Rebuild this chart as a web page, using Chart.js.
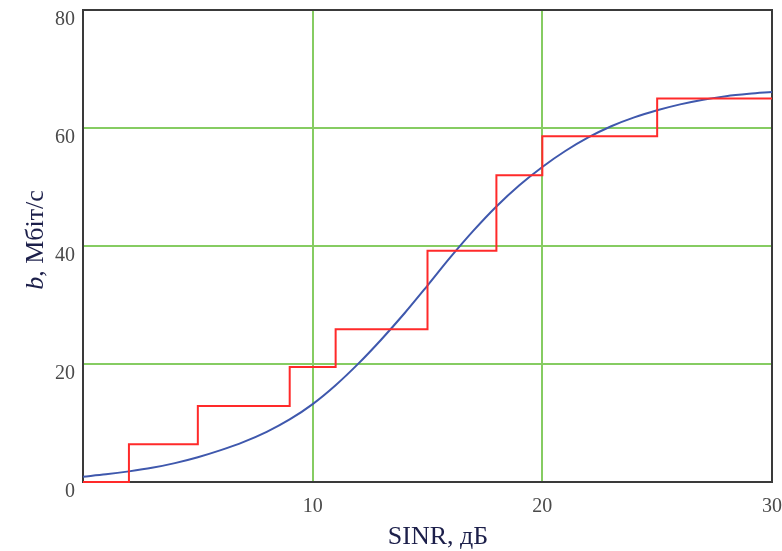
<!DOCTYPE html>
<html>
<head>
<meta charset="utf-8">
<script src="https://cdn.jsdelivr.net/npm/chart.js@4/dist/chart.umd.min.js"></script>
<style>
  html, body { margin: 0; padding: 0; background: #fff; }
  #wrap { width: 782px; height: 551px; }
</style>
</head>
<body>
<div id="wrap"><canvas id="rateChart"></canvas></div>
<script>
// step function (MCS table) and smooth approximation
const sinrSteps = [0, 2, 5, 9, 11, 15, 18, 20, 25, 30];
const rateSteps = [0, 6.4, 12.9, 19.5, 25.9, 39.2, 52.0, 58.6, 65.0, 65.0];

const sinrCurve = [0, 1, 2, 3, 4, 5, 6, 7, 8, 9, 10, 11, 12, 13, 14, 15,
                   16, 17, 18, 19, 20, 21, 22, 23, 24, 25, 26, 27, 28, 29, 30];
const rateCurve = [0.9, 1.3, 1.8, 2.4, 3.2, 4.2, 5.4, 6.8, 8.5, 10.6, 13.2,
                   16.4, 20.1, 24.2, 28.6, 33.3, 38.1, 42.6, 46.7, 50.3, 53.4,
                   56.1, 58.4, 60.3, 61.8, 63.0, 64.0, 64.8, 65.4, 65.8, 66.1];

const xTicks = [0, 10, 20, 30];
const yTicks = [0, 20, 40, 60, 80];

const gridGreen = '#86cc62';
const axisColor = '#3a3a3a';
const tickColor = '#4a4a4a';
const titleColor = '#1c1f4a';

function toPoints(xs, ys) {
    return xs.map((x, i) => ({x: x, y: ys[i]}));
}

const frame = {
    id: 'frame',
    beforeDatasetsDraw(chart) {
        const a = chart.chartArea;
        const ctx = chart.ctx;
        ctx.save();
        ctx.strokeStyle = axisColor;
        ctx.lineWidth = 2;
        ctx.strokeRect(a.left, a.top, a.right - a.left, a.bottom - a.top);
        ctx.restore();
    },
    afterDraw(chart) {
        const ctx = chart.ctx;
        ctx.save();
        ctx.fillStyle = titleColor;
        ctx.textBaseline = 'middle';

        // x title
        ctx.font = '26px "Liberation Serif"';
        ctx.textAlign = 'center';
        ctx.fillText('SINR, дБ', 438, 537);

        // y title with italic b
        ctx.translate(36, 240);
        ctx.rotate(-Math.PI / 2);
        ctx.textAlign = 'left';
        const italic = 'italic 26px "Liberation Serif"';
        const normal = '26px "Liberation Serif"';
        ctx.font = italic;
        const wB = ctx.measureText('b').width;
        ctx.font = normal;
        const rest = ', Мбіт/с';
        const wR = ctx.measureText(rest).width;
        const start = -(wB + wR) / 2;
        ctx.font = italic;
        ctx.fillText('b', start, 0);
        ctx.font = normal;
        ctx.fillText(rest, start + wB, 0);
        ctx.restore();
    }
};

new Chart(document.getElementById('rateChart').getContext('2d'), {
    type: 'line',
    data: {
        datasets: [
            {
                label: 'step',
                data: toPoints(sinrSteps, rateSteps),
                stepped: 'before',
                borderColor: '#ff2a2a',
                borderWidth: 2,
                pointRadius: 0,
                fill: false,
                clip: 4,
            },
            {
                label: 'curve',
                data: toPoints(sinrCurve, rateCurve),
                borderColor: '#3f58ad',
                borderWidth: 2,
                pointRadius: 0,
                cubicInterpolationMode: 'monotone',
                fill: false,
            }
        ]
    },
    options: {
        responsive: true,
        maintainAspectRatio: false,
        animation: false,
        layout: { autoPadding: false, padding: { top: 10, right: 10, left: 0, bottom: 0 } },
        plugins: {
            legend: { display: false },
            tooltip: { enabled: false },
        },
        scales: {
            x: {
                type: 'linear',
                min: 0,
                max: 30,
                afterBuildTicks: (scale) => { scale.ticks = xTicks.map(v => ({value: v})); },
                afterFit: (scale) => {
                    scale.height = 69;
                    scale.paddingLeft = 0;
                    scale.paddingRight = 0;
                },
                ticks: {
                    autoSkip: false,
                    maxRotation: 0,
                    padding: 13,
                    color: tickColor,
                    font: { family: '"Liberation Serif"', size: 20 },
                    callback: (v) => v === 0 ? '' : v,
                },
                grid: {
                    drawTicks: false,
                    lineWidth: 2,
                    color: (c) => (c.tick && (c.tick.value === 0 || c.tick.value === 30)) ? 'rgba(0,0,0,0)' : gridGreen,
                },
                border: { display: false },
            },
            y: {
                type: 'linear',
                min: 0,
                max: 80,
                afterBuildTicks: (scale) => { scale.ticks = yTicks.map(v => ({value: v})); },
                afterFit: (scale) => {
                    scale.width = 83;
                    scale.paddingTop = 0;
                    scale.paddingBottom = 0;
                },
                ticks: {
                    autoSkip: false,
                    padding: 8,
                    labelOffset: 10,
                    color: tickColor,
                    font: { family: '"Liberation Serif"', size: 20 },
                },
                grid: {
                    drawTicks: false,
                    lineWidth: 2,
                    color: (c) => (c.tick && (c.tick.value === 0 || c.tick.value === 80)) ? 'rgba(0,0,0,0)' : gridGreen,
                },
                border: { display: false },
            }
        }
    },
    plugins: [frame]
});
</script>
</body>
</html>
